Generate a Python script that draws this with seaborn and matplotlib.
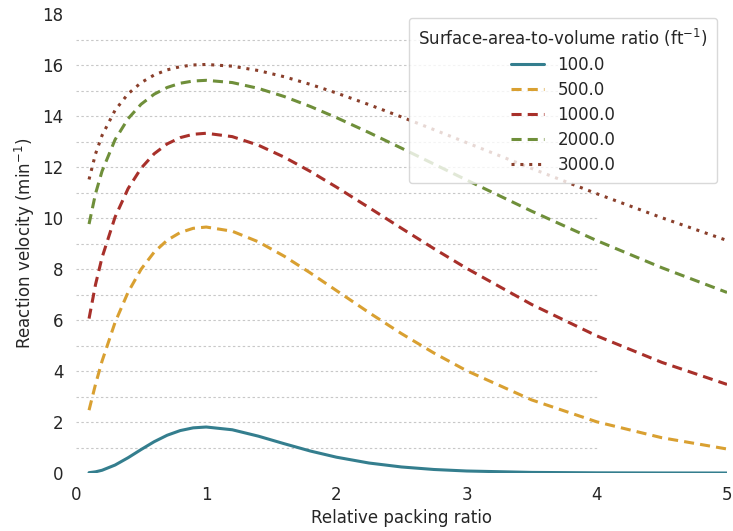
import numpy as np
import pandas as pd
import matplotlib
matplotlib.use("Agg")
import matplotlib.pyplot as plt
import seaborn as sns

# Relative packing ratio (beta / beta_op) sample points
packing_ratio = [0.1, 0.15, 0.2, 0.3, 0.4, 0.5, 0.6, 0.7, 0.8, 0.9, 1.0,
                 1.2, 1.4, 1.6, 1.8, 2.0, 2.25, 2.5, 2.75, 3.0, 3.5, 4.0, 4.5, 5.0]

# Surface-area-to-volume ratios (ft^-1)
sav_ratios = [100.0, 500.0, 1000.0, 2000.0, 3000.0]

# Reaction velocity (min^-1) for each surface-area-to-volume ratio
velocity_100 = [0.014, 0.047, 0.108, 0.313, 0.600, 0.921, 1.227, 1.481, 1.664, 1.771, 1.804,
                1.696, 1.446, 1.148, 0.862, 0.621, 0.392, 0.237, 0.138, 0.079, 0.024, 0.007, 0.002, 0.000]
velocity_500 = [2.464, 3.482, 4.388, 5.907, 7.091, 7.993, 8.660, 9.128, 9.431, 9.596, 9.646,
                9.482, 9.068, 8.500, 7.846, 7.156, 6.292, 5.466, 4.703, 4.013, 2.866, 2.007, 1.383, 0.942]
velocity_1000 = [6.056, 7.395, 8.453, 10.037, 11.153, 11.953, 12.519, 12.906, 13.152, 13.284, 13.324,
                 13.192, 12.857, 12.385, 11.826, 11.213, 10.410, 9.597, 8.797, 8.027, 6.609, 5.378, 4.338, 3.475]
velocity_2000 = [9.763, 10.958, 11.837, 13.073, 13.896, 14.463, 14.855, 15.119, 15.285, 15.373, 15.400,
                 15.312, 15.085, 14.763, 14.374, 13.938, 13.352, 12.739, 12.114, 11.490, 10.268, 9.115, 8.050, 7.081]
velocity_3000 = [11.512, 12.517, 13.239, 14.227, 14.871, 15.309, 15.609, 15.810, 15.935, 16.002, 16.022,
                 15.955, 15.784, 15.539, 15.240, 14.904, 14.447, 13.963, 13.463, 12.955, 11.942, 10.953, 10.010, 9.120]

velocities = [velocity_100, velocity_500, velocity_1000, velocity_2000, velocity_3000]

frames = []
for sav, vel in zip(sav_ratios, velocities):
    frames.append(pd.DataFrame({"beta": packing_ratio, "velocity": vel,
                                "sav": str(sav)}))
df = pd.concat(frames, ignore_index=True)

labels = [str(s) for s in sav_ratios]
palette = dict(zip(labels, ["#347e8e", "#d9a031", "#a8302a", "#6f8f3a", "#8a3f2b"]))
dashes = dict(zip(labels, ["", (3.3, 2.0), (3.3, 2.0), (3.3, 2.0), (1, 1.9)]))

sns.set_theme(style="white")
plt.rcParams["font.family"] = ["DejaVu Sans"]

fig, ax = plt.subplots(figsize=(7.33, 5.31), dpi=100)
fig.subplots_adjust(left=0.1037, right=0.9918, bottom=0.1092, top=0.9736)

# Dashed reference lines at every unit of velocity
ax.hlines(np.arange(1, 18), 0, 4, colors="#c8c8c8", linestyles=(0, (2.2, 2.2)),
          linewidth=0.8, zorder=0)

sns.lineplot(data=df, x="beta", y="velocity", hue="sav", style="sav",
             hue_order=labels, style_order=labels, palette=palette,
             dashes=dashes, linewidth=2.2, ax=ax)

ax.set_xlim(0, 5)
ax.set_ylim(0, 18)
ax.set_xticks(range(0, 6))
ax.set_yticks(range(0, 19, 2))
ax.tick_params(axis="both", labelsize=12, length=0, pad=9)
for side in ["top", "right", "left", "bottom"]:
    ax.spines[side].set_visible(False)

ax.set_xlabel("Relative packing ratio", fontsize=12)
ax.set_ylabel("Reaction velocity (min$^{-1}$)", fontsize=12)

leg = ax.legend(title="Surface-area-to-volume ratio (ft$^{-1}$)", loc="upper right",
                fontsize=12, title_fontsize=12, frameon=True,
                bbox_to_anchor=(0.9846, 0.9913), borderaxespad=0,
                labelspacing=0.42, borderpad=0.55)
leg.get_frame().set_edgecolor("#d0d0d0")

fig.savefig("out.png", dpi=100)
